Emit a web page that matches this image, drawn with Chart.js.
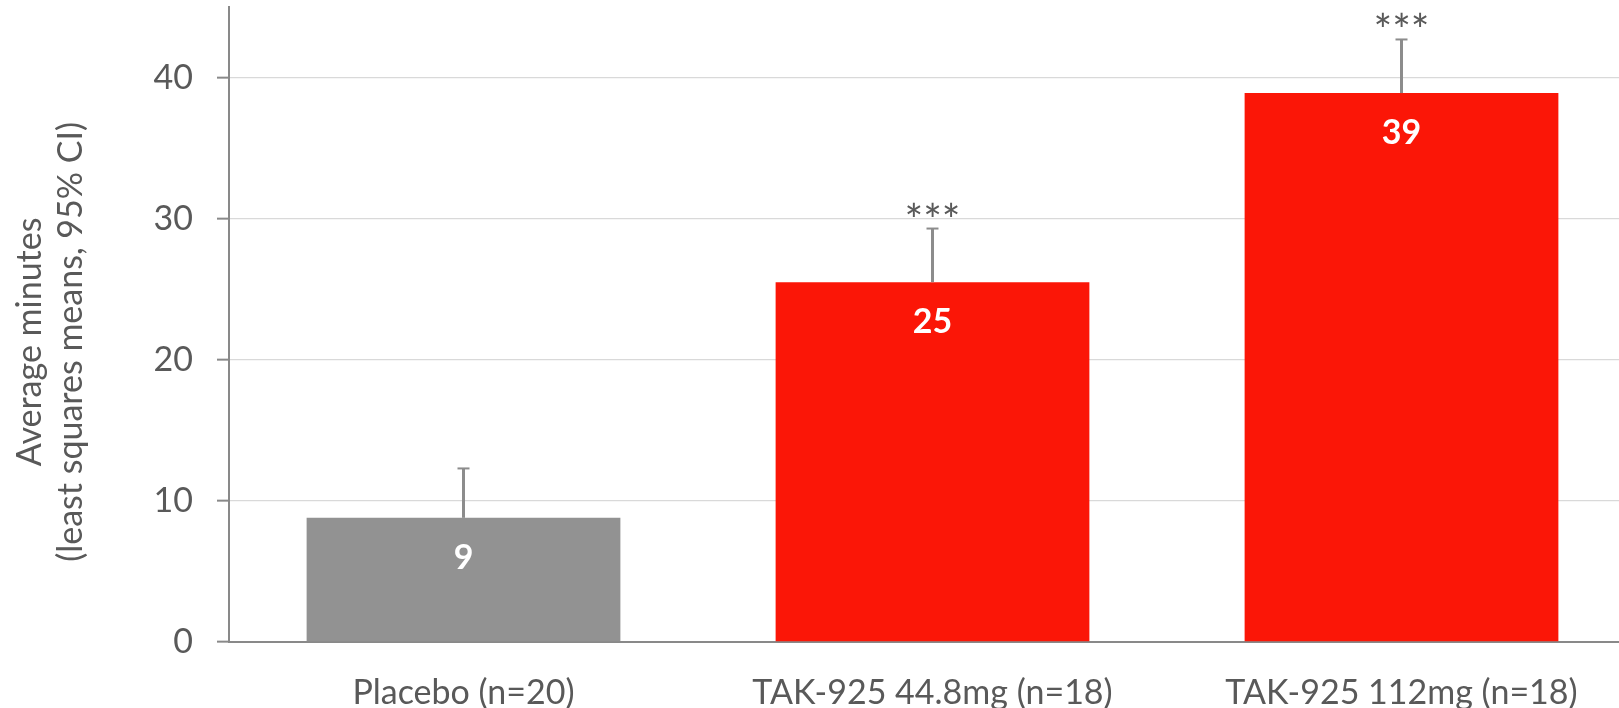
<!DOCTYPE html>
<html>
<head>
<meta charset="utf-8">
<script src="https://cdn.jsdelivr.net/npm/chart.js@4/dist/chart.umd.min.js"></script>
<style>
  html, body { margin: 0; padding: 0; background: #ffffff; overflow: hidden; width: 1619px; height: 708px; }
  canvas { display: block; }
</style>
</head>
<body>
<canvas id="c" width="1640" height="708"></canvas>
<script>
const categories = ['Placebo (n=20)', 'TAK-925 44.8mg (n=18)', 'TAK-925 112mg (n=18)'];
const meanValues = [8.8, 25.5, 38.9];
const ciUpper = [12.3, 29.3, 42.7];
const valueLabels = ['9', '25', '39'];
const sigLabels = ['', '***', '***'];
const yTickValues = [0, 10, 20, 30, 40];
const barColors = ['#929292', '#FB1607', '#FB1607'];
const yTitle = ['Average minutes', '(least squares means, 95% CI)'];

const FONT = 'Lato';
const TEXT_GRAY = '#595959';
const AXIS_GRAY = '#898989';

const overlayPlugin = {
  id: 'overlay',
  afterDatasetsDraw(chart) {
    const ctx = chart.ctx;
    const meta = chart.getDatasetMeta(0);
    const y = chart.scales.y;
    ctx.save();
    meta.data.forEach((bar, i) => {
      const x = bar.x;
      const yTop = y.getPixelForValue(meanValues[i]);
      const yErr = y.getPixelForValue(ciUpper[i]);
      ctx.strokeStyle = '#8C8C8C';
      ctx.lineWidth = 3;
      ctx.beginPath();
      ctx.moveTo(x, yTop);
      ctx.lineTo(x, yErr);
      ctx.stroke();
      ctx.lineWidth = 2;
      ctx.beginPath();
      ctx.moveTo(x - 6, yErr);
      ctx.lineTo(x + 6, yErr);
      ctx.stroke();
      ctx.fillStyle = '#ffffff';
      ctx.font = 'bold 34px ' + FONT;
      ctx.textAlign = 'center';
      ctx.textBaseline = 'middle';
      ctx.fillText(valueLabels[i], x, yTop + 40);
      if (sigLabels[i]) {
        ctx.fillStyle = TEXT_GRAY;
        ctx.font = '44px ' + FONT;
        ctx.textBaseline = 'alphabetic';
        ctx.fillText(sigLabels[i], x, yErr + 7);
      }
    });
    ctx.restore();
  }
};

new Chart(document.getElementById('c'), {
  type: 'bar',
  data: {
    labels: categories,
    datasets: [{
      data: meanValues,
      backgroundColor: barColors,
      borderWidth: 0,
      barPercentage: 0.669,
      categoryPercentage: 1.0
    }]
  },
  options: {
    responsive: false,
    animation: false,
    events: [],
    layout: { padding: { left: 0, right: 4, top: 7, bottom: 0 } },
    plugins: {
      legend: { display: false },
      tooltip: { enabled: false },
      title: { display: false }
    },
    scales: {
      x: {
        grid: { display: false, drawTicks: false },
        border: { display: true, color: AXIS_GRAY, width: 2 },
        ticks: {
          color: TEXT_GRAY,
          font: { family: FONT, size: 34 },
          padding: 31,
          maxRotation: 0,
          autoSkip: false
        },
        afterFit(scale) {
          scale.height = 66;
          scale.paddingLeft = 0; scale.paddingRight = 0;
          scale.paddingTop = 0; scale.paddingBottom = 0;
        }
      },
      y: {
        min: 0,
        max: 45,
        afterBuildTicks(scale) { scale.ticks = yTickValues.map(v => ({ value: v })); },
        afterFit(scale) {
          scale.width = 229;
          scale.paddingLeft = 0; scale.paddingRight = 0;
          scale.paddingTop = 0; scale.paddingBottom = 0;
        },
        grid: { color: '#D9D9D9', lineWidth: 1.3, tickColor: AXIS_GRAY, tickLength: 12, tickWidth: 2 },
        border: { display: true, color: AXIS_GRAY, width: 2 },
        ticks: {
          color: TEXT_GRAY,
          font: { family: FONT, size: 34 },
          padding: 24
        },
        title: {
          display: true,
          text: yTitle.map(s => s + '    '),
          color: TEXT_GRAY,
          font: { family: FONT, size: 34, lineHeight: 1.22 },
          padding: { top: 9, bottom: 0 }
        }
      }
    }
  },
  plugins: [overlayPlugin]
});
</script>
</body>
</html>
